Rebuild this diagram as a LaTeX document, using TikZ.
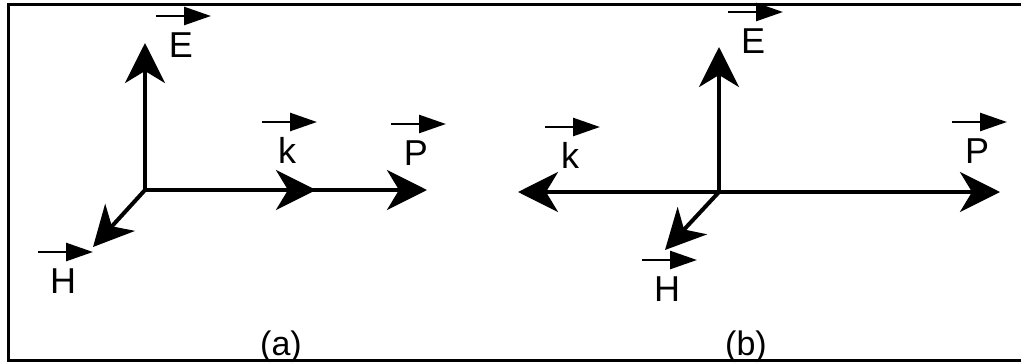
\documentclass[tikz,border=0pt]{standalone}
\usepackage{fontspec}
\setmainfont{Liberation Sans}
\usetikzlibrary{arrows.meta,calc}
\begin{document}
\begin{tikzpicture}[x=1pt,y=-1pt,
  bigvec/.style={line width=4pt,-{Stealth[length=40pt,width=40pt,inset=12pt]}},
  overvec/.style={line width=2.6pt,-{Triangle[length=27pt,width=18pt]}},
  lab/.style={anchor=base,inner sep=0pt,font=\fontsize{36}{40}\selectfont},
  captext/.style={anchor=base,inner sep=0pt,font=\fontsize{34}{40}\selectfont}]
\useasboundingbox (0,0) rectangle (1021,362);
\draw[line width=3pt] (1021,4) -- (8,4) -- (8,360) -- (1021,360);
% panel (a)
\coordinate (Oa) at (145,190);
\coordinate (Ea) at (145,43);
\coordinate (Ha) at (93,247);
\coordinate (ka) at (316,190);
\coordinate (Pa) at (427,190);
\draw[bigvec] (Oa) -- (Ea);
\draw[bigvec] (Oa) -- (Ha);
\draw[bigvec] (Oa) -- (Pa);
\draw[bigvec] (Oa) -- (ka);
\node[lab] (LEa) at (181,57) {E};
\node[lab] (Lka) at (287,163) {k};
\node[lab] (LPa) at (416,165) {P};
\node[lab] (LHa) at (63,293) {H};
% panel (b)
\coordinate (Ob) at (719,192);
\coordinate (Eb) at (719,47);
\coordinate (Pb) at (1000,192);
\coordinate (kb) at (518,192);
\coordinate (Hb) at (665,250);
\draw[bigvec] (Ob) -- (Eb);
\draw[bigvec] (Ob) -- (Pb);
\draw[bigvec] (Ob) -- (kb);
\draw[bigvec] (Ob) -- (Hb);
\node[lab] (LEb) at (753,53) {E};
\node[lab] (Lkb) at (570,168) {k};
\node[lab] (LPb) at (977,163) {P};
\node[lab] (LHb) at (667,301) {H};
% over-arrows
\foreach \n in {LEa,Lka,LPa,LHa,LEb,Lkb,LPb,LHb}{
  \draw[overvec] ($(\n.base)+(-25,-41)$) -- ($(\n.base)+(30,-41)$);
}
% captions
\node[captext] (capa) at (281,355) {(a)};
\node[captext] (capb) at (746,355) {(b)};
\end{tikzpicture}
\end{document}
